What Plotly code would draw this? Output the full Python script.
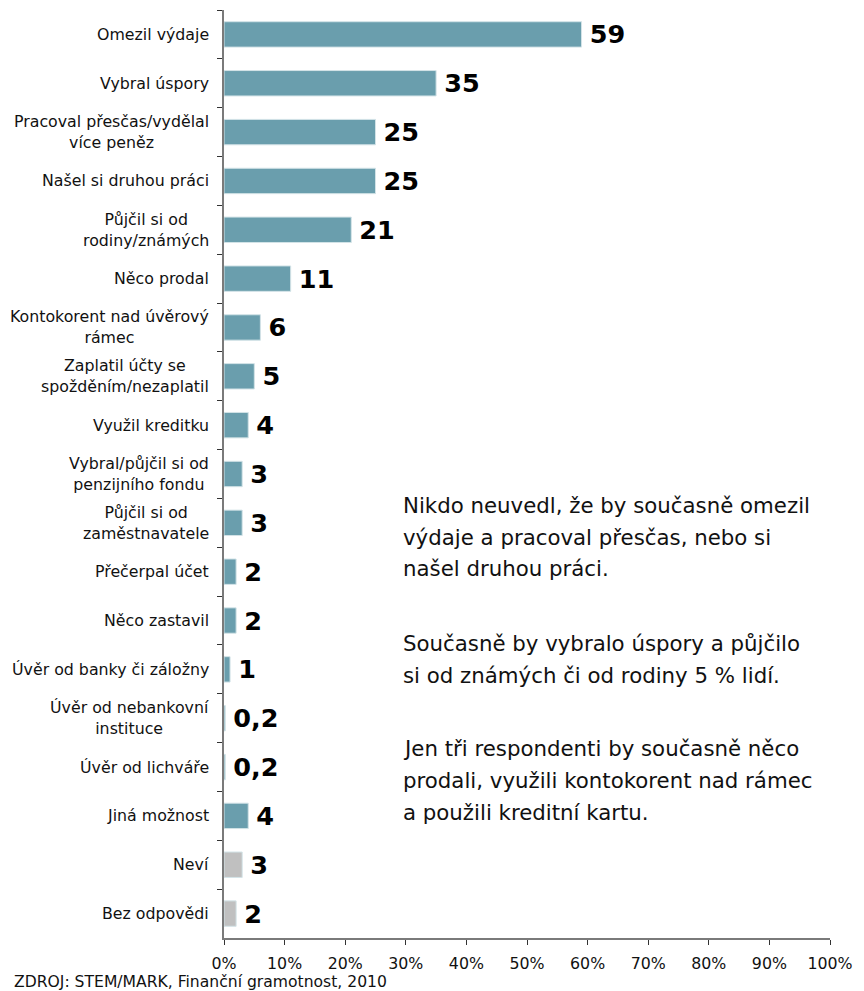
import plotly.graph_objects as go

categories = [
    "Omezil výdaje",
    "Vybral úspory",
    "Pracoval přesčas/vydělal<br>více peněz",
    "Našel si druhou práci",
    "Půjčil si od<br>rodiny/známých",
    "Něco prodal",
    "Kontokorent nad úvěrový<br>rámec",
    "Zaplatil účty se<br>spožděním/nezaplatil",
    "Využil kreditku",
    "Vybral/půjčil si od<br>penzijního fondu",
    "Půjčil si od<br>zaměstnavatele",
    "Přečerpal účet",
    "Něco zastavil",
    "Úvěr od banky či záložny",
    "Úvěr od nebankovní<br>instituce",
    "Úvěr od lichváře",
    "Jiná možnost",
    "Neví",
    "Bez odpovědi",
]
values = [59, 35, 25, 25, 21, 11, 6, 5, 4, 3, 3, 2, 2, 1, 0.2, 0.2, 4, 3, 2]
is_other = [False] * 17 + [True, True]
x_ticks = [0, 10, 20, 30, 40, 50, 60, 70, 80, 90, 100]
x_tick_labels = [f"{t}%" for t in x_ticks]

note_lines = [
    "Nikdo neuvedl, že by současně omezil",
    "výdaje a pracoval přesčas, nebo si",
    "našel druhou práci.",
    "Současně by vybralo úspory a půjčilo",
    "si od známých či od rodiny 5 % lidí.",
    "Jen tři respondenti by současně něco",
    "prodali, využili kontokorent nad rámec",
    "a použili kreditní kartu.",
]
source_text = "ZDROJ: STEM/MARK, Finanční gramotnost, 2010"

FONT = "DejaVu Sans"
TEAL = "#6a9ead"
GREY = "#c0c0c0"

# page offset (browser body margin)
OFF = 8
W, H = 864 - OFF, 991 - OFF
PLOT_LEFT, PLOT_RIGHT, PLOT_TOP, PLOT_BOTTOM = 224, 830, 10, 938  # page pixels
L = PLOT_LEFT - OFF
T = PLOT_TOP - OFF
R = W - (PLOT_RIGHT - OFF)
B = H - (PLOT_BOTTOM - OFF)
plot_h = PLOT_BOTTOM - PLOT_TOP
plot_w = PLOT_RIGHT - PLOT_LEFT


def paper_x(px):
    return (px - PLOT_LEFT) / plot_w


def paper_y(py):
    return (PLOT_BOTTOM - py) / plot_h


note_pixel_y = [505, 537, 568, 643, 675, 748, 780, 812]

labels = ["\u2009" + (f"{v:g}".replace(".", ",")) for v in values]
colors = [GREY if o else TEAL for o in is_other]

fig = go.Figure()
fig.add_trace(go.Bar(
    x=values,
    y=categories,
    orientation="h",
    marker=dict(color=colors, line=dict(color="#d3e3e7", width=1)),
    text=labels,
    textposition="outside",
    constraintext="none",
    cliponaxis=False,
    textfont=dict(family=FONT, size=25.5, color="black", weight="bold"),
    hoverinfo="skip",
))

annotations = []
for c in categories:
    annotations.append(dict(
        x=0, xref="paper", y=c, yref="y", xanchor="right", yanchor="middle",
        xshift=-13, text=c, showarrow=False, align="center",
        font=dict(family=FONT, size=15.8, color="#111111"),
    ))
for line, py in zip(note_lines, note_pixel_y):
    annotations.append(dict(
        x=paper_x(401), xref="paper", y=paper_y(py), yref="paper",
        xanchor="left", yanchor="middle", text=line, showarrow=False, align="left",
        font=dict(family=FONT, size=21.3, color="#111111"),
    ))
annotations.append(dict(
    x=paper_x(12), xref="paper", y=paper_y(982), yref="paper",
    xanchor="left", yanchor="middle", text=source_text, showarrow=False,
    font=dict(family=FONT, size=15.6, color="#111111"),
))

fig.update_layout(
    width=W, height=H,
    margin=dict(l=L, r=R, t=T, b=B, autoexpand=False),
    paper_bgcolor="white", plot_bgcolor="white",
    showlegend=False,
    bargap=0.48,
    annotations=annotations,
    font=dict(family=FONT, size=15.8, color="#111111"),
)
fig.update_xaxes(
    range=[0, 100], tickvals=x_ticks, ticktext=x_tick_labels,
    showgrid=False, zeroline=False, showline=True, linecolor="#7a7a7a", linewidth=1.5,
    ticks="outside", ticklen=5, tickcolor="#333333", tickwidth=1,
    tickfont=dict(family=FONT, size=15.8, color="#111111"),
    ticklabelstandoff=5,
)
fig.update_yaxes(
    categoryorder="array", categoryarray=categories, autorange="reversed",
    showticklabels=False, showgrid=False, zeroline=False,
    showline=True, linecolor="#7a7a7a", linewidth=1.5,
    ticks="outside", ticklen=5, tickcolor="#333333", tickwidth=1,
    tickson="boundaries",
)

fig.write_html("out.html")
